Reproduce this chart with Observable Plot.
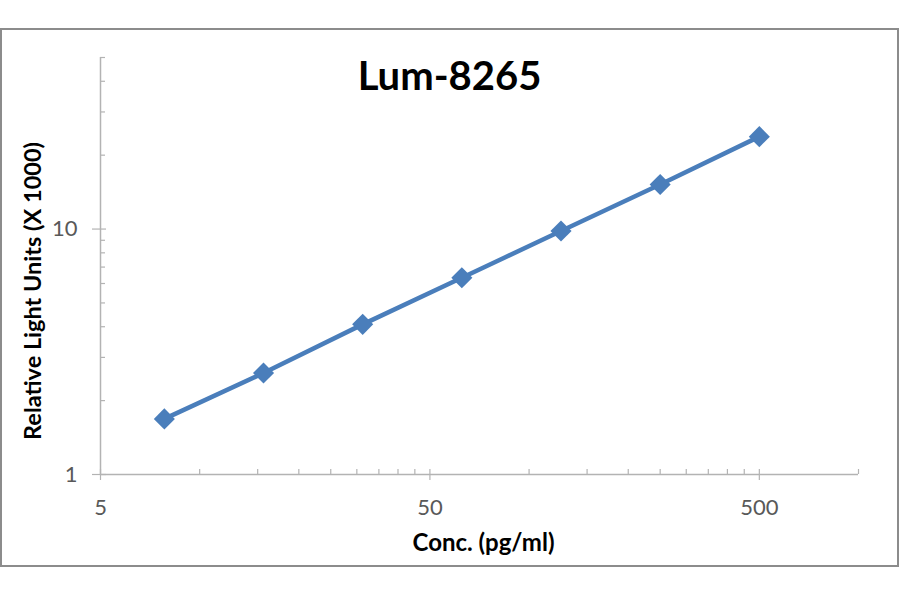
<!DOCTYPE html>
<html>
<head>
<meta charset="utf-8">
<script src="https://cdn.jsdelivr.net/npm/d3@7"></script>
<script src="https://cdn.jsdelivr.net/npm/@observablehq/plot@0.6"></script>
<style>
  html, body { margin: 0; padding: 0; background: #fff; }
  #wrap { position: relative; width: 900px; height: 594px; }
  #border { position: absolute; left: 0px; top: 28px; width: 899px; height: 539px;
            box-sizing: border-box; border: 2px solid #8c8c8c; pointer-events: none; }
</style>
</head>
<body>
<div id="wrap"><div id="border"></div></div>
<script>
const title = "Lum-8265";
const xTitle = "Conc. (pg/ml)";
const yTitle = "Relative Light Units (X 1000)";
const conc = [7.8125, 15.625, 31.25, 62.5, 125, 250, 500];
const rlu = [1.685, 2.59, 4.09, 6.33, 9.82, 15.2, 23.8];
const xDomain = [5, 1000];
const yDomain = [1, 50];
const xMajor = [5, 50, 500];
const yMajor = [1, 10];
const xMinor = [10, 15, 20, 25, 30, 35, 40, 45, 100, 150, 200, 250, 300, 350, 400, 450, 1000];
const yMinor = [2, 3, 4, 5, 6, 7, 8, 9, 20, 30, 40, 50];

const data = conc.map((c, i) => ({conc: c, rlu: rlu[i]}));

const W = 900, H = 594, mL = 100, mR = 42, mT = 57, mB = 120;
const plotW = W - mL - mR, plotH = H - mT - mB;
const axisColor = "#b3b3b3";
const labelColor = "#595959";
const blue = "#4a7ebb";
const font = "Lato, 'Open Sans', sans-serif";

const chart = Plot.plot({
  width: W, height: H,
  marginLeft: mL, marginRight: mR, marginTop: mT, marginBottom: mB,
  style: {fontFamily: font, background: "transparent"},
  x: {type: "log", domain: xDomain, axis: null},
  y: {type: "log", domain: yDomain, axis: null},
  marks: [
    Plot.ruleY([yDomain[0]], {stroke: axisColor, strokeWidth: 1.5}),
    Plot.ruleX([xDomain[0]], {stroke: axisColor, strokeWidth: 1.5}),
    // minor ticks (inside)
    Plot.tickX(xMinor, {x: d => d, insetTop: plotH - 5, stroke: axisColor, strokeWidth: 1.2}),
    Plot.tickY(yMinor, {y: d => d, insetRight: plotW - 5, stroke: axisColor, strokeWidth: 1.2}),
    // major ticks (crossing the axis)
    Plot.tickX(xMajor, {x: d => d, insetTop: plotH - 5, insetBottom: -6, stroke: axisColor, strokeWidth: 1.2}),
    Plot.tickY(yMajor, {y: d => d, insetRight: plotW - 6, insetLeft: -8, stroke: axisColor, strokeWidth: 1.2}),
    // tick labels
    Plot.text(xMajor, {x: d => d, text: d => String(d), frameAnchor: "bottom", lineAnchor: "middle",
      dy: 33, fontSize: 22, fill: labelColor}),
    Plot.text(yMajor, {y: d => d, text: d => String(d), frameAnchor: "left", textAnchor: "end",
      lineAnchor: "middle", dx: -23, fontSize: 22, fill: labelColor}),
    Plot.line(data, {x: "conc", y: "rlu", stroke: blue, strokeWidth: 4.5}),
    Plot.dot(data, {x: "conc", y: "rlu", symbol: "diamond2", r: 9.5, fill: blue, stroke: null}),
    Plot.text([title], {frameAnchor: "top", lineAnchor: "middle", dx: -30, dy: 20,
      fontSize: 40, fontWeight: "bold", fill: "#000"}),
    Plot.text([xTitle], {frameAnchor: "bottom", textAnchor: "middle", lineAnchor: "middle", dx: 4, dy: 69,
      fontSize: 24, fontWeight: "bold", fill: "#000"}),
    Plot.text([yTitle], {frameAnchor: "left", textAnchor: "middle", lineAnchor: "middle", rotate: -90,
      dx: -67, dy: 25, fontSize: 23.5, fontWeight: "bold", fill: "#000"})
  ]
});
document.getElementById("wrap").prepend(chart);
</script>
</body>
</html>
